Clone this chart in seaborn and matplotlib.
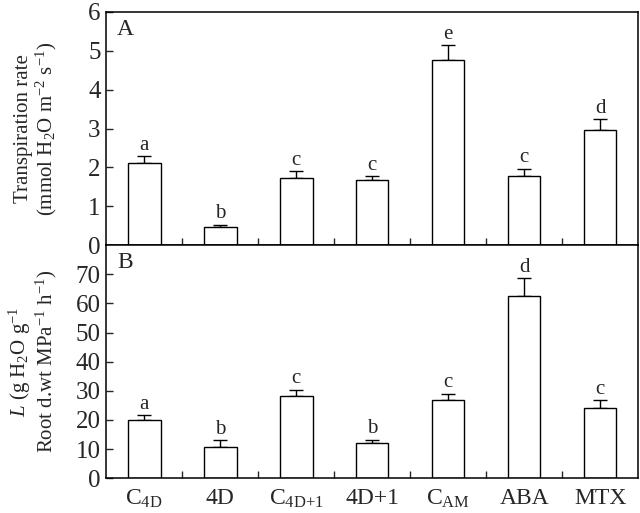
import pandas as pd
import seaborn as sns
import matplotlib.pyplot as plt

treatments = ["C4D", "4D", "C4D+1", "4D+1", "CAM", "ABA", "MTX"]
tick_labels = [r"C$_{\mathrm{4D}}$", "4D", r"C$_{\mathrm{4D{+}1}}$", "4D+1",
               r"C$_{\mathrm{AM}}$", "ABA", "MTX"]

transp_mean = [2.11, 0.47, 1.72, 1.68, 4.77, 1.78, 2.97]
transp_err = [0.19, 0.06, 0.18, 0.10, 0.38, 0.19, 0.28]
transp_letters = ["a", "b", "c", "c", "e", "c", "d"]

lp_mean = [19.8, 10.6, 28.2, 12.0, 26.8, 62.4, 24.2]
lp_err = [1.8, 2.5, 2.1, 1.2, 2.2, 6.3, 2.5]
lp_letters = ["a", "b", "c", "b", "c", "d", "c"]

sns.set_theme(style="white")
plt.rcParams["font.family"] = ["Liberation Serif", "DejaVu Serif"]
plt.rcParams["mathtext.fontset"] = "custom"
plt.rcParams["mathtext.rm"] = "Liberation Serif"
plt.rcParams["mathtext.it"] = "Liberation Serif:italic"
plt.rcParams["mathtext.bf"] = "Liberation Serif:bold"

df = pd.DataFrame({"trt": treatments, "E": transp_mean, "Eerr": transp_err,
                   "L": lp_mean, "Lerr": lp_err})

fig = plt.figure(figsize=(6.4, 5.13), dpi=100)
ax1 = fig.add_axes([0.166, 0.522, 0.831, 0.455])
ax2 = fig.add_axes([0.166, 0.068, 0.831, 0.454])


def panel(ax, col, errcol, letters, ymax, ystep, label, ylabel, off):
    sns.barplot(data=df, x="trt", y=col, color="white", edgecolor="black",
                linewidth=1.0, width=0.43, errorbar=None, ax=ax, zorder=2)
    n = len(df)
    ax.errorbar(range(n), df[col], yerr=[[0] * n, df[errcol]], fmt="none",
                ecolor="black", elinewidth=1.0, capsize=5, capthick=1.0, zorder=1)
    for i, (v, e, t) in enumerate(zip(df[col], df[errcol], letters)):
        ax.text(i, v + e + off, t, ha="center", va="bottom", fontsize=15)
    ax.set_xlim(-0.5, n - 0.5)
    ax.set_ylim(0, ymax)
    ax.set_yticks(range(0, ymax, ystep) if ymax > 10 else range(0, ymax + 1, ystep))
    ax.set_xticks([i + 0.5 for i in range(n - 1)])
    ax.tick_params(axis="x", direction="in", length=5, width=1, bottom=True,
                   labelbottom=False)
    ax.tick_params(axis="y", direction="in", length=5, width=1, left=True,
                   labelsize=18, pad=4)
    ax.set_xlabel("")
    ax.set_ylabel(ylabel, fontsize=15, linespacing=1.05)
    ax.yaxis.set_label_coords(-0.088, 0.5)
    ax.text(0.02, 0.97, label, transform=ax.transAxes, ha="left", va="top",
            fontsize=17)
    for s in ax.spines.values():
        s.set_color("black")
        s.set_linewidth(1.1)


panel(ax1, "E", "Eerr", transp_letters, 6, 1, "A",
      "Transpiration rate\n(mmol H$_2$O m$^{-2}$ s$^{-1}$)", 0.03)
panel(ax2, "L", "Lerr", lp_letters, 80, 10, "B",
      "$L$ (g H$_2$O g$^{-1}$\nRoot d.wt MPa$^{-1}$ h$^{-1}$)", 0.5)

for i, t in enumerate(tick_labels):
    ax2.text(i, -3.3, t, ha="center", va="top", fontsize=17)

fig.savefig("out.png", dpi=100)
